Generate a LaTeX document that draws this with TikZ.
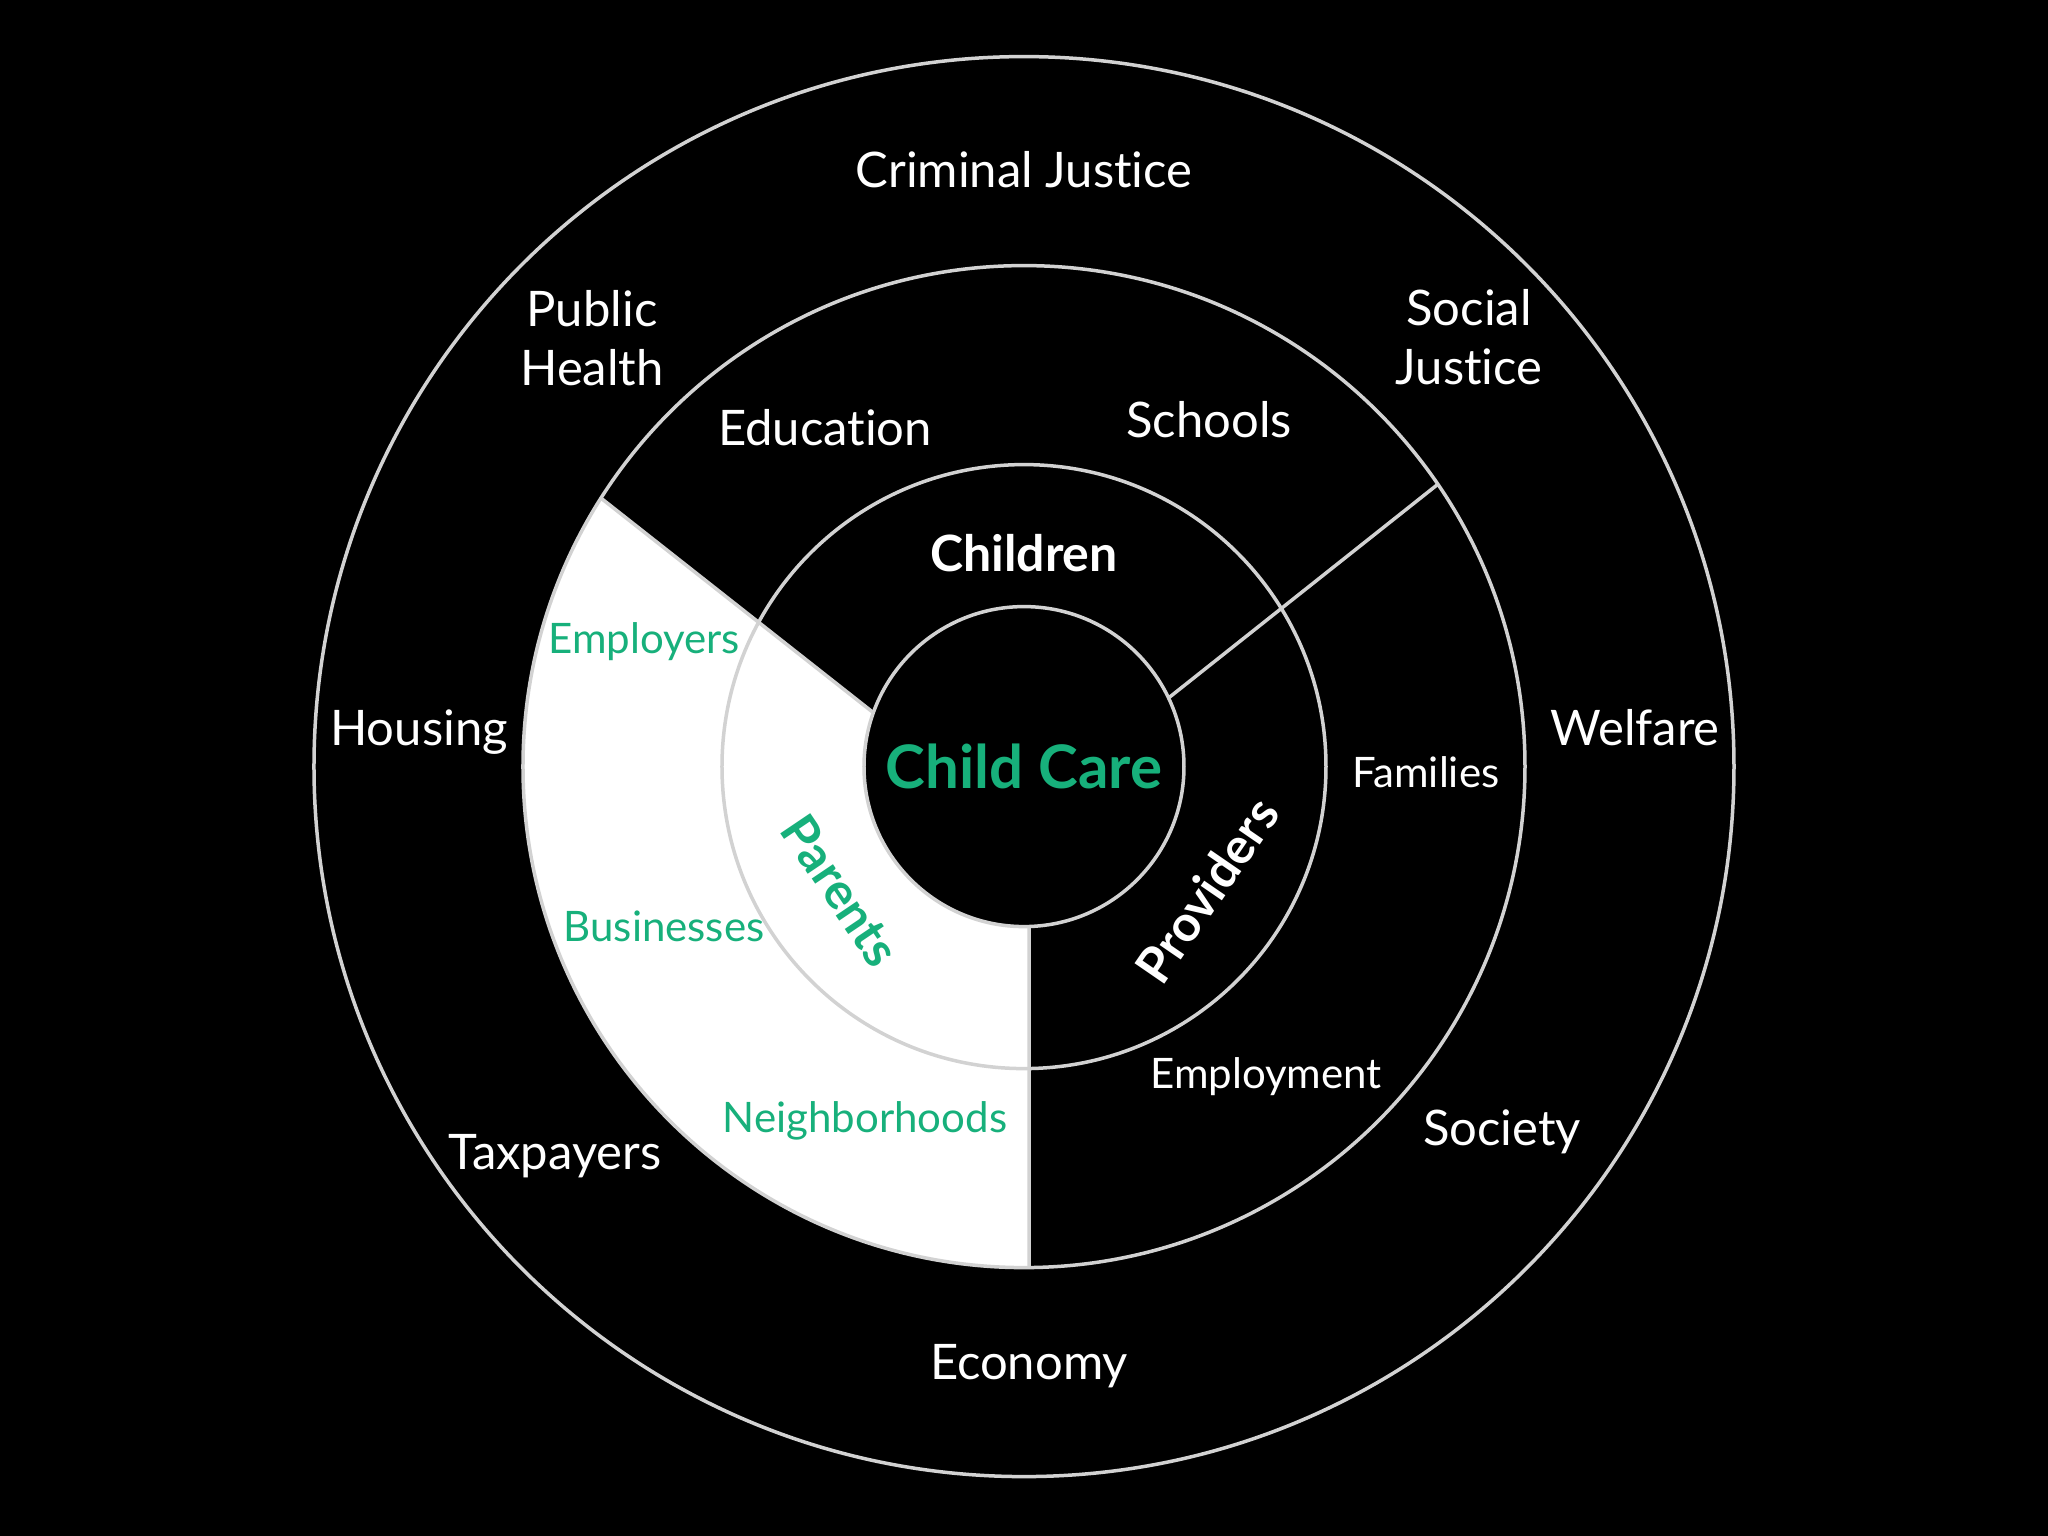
\documentclass[tikz,border=0pt]{standalone}
\usepackage{fontspec}
\setmainfont{Lato}[Ligatures=NoCommon]
\definecolor{ccgreen}{HTML}{17B07B}
\definecolor{ringgray}{HTML}{D2D2D2}
\begin{document}
\begin{tikzpicture}[x=1pt,y=1pt,
  ring/.style={draw=ringgray,line width=3.5pt},
  lbl/.style={text=white,inner sep=0pt,text height=35pt,text depth=0pt,font=\fontsize{49}{58}\selectfont},
  two/.style={text=white,inner sep=0pt,align=center,font=\fontsize{49}{59}\selectfont},
  small/.style={lbl,text height=30pt,font=\fontsize{42}{50}\selectfont},
  gsmall/.style={small,text=ccgreen},
  boldlbl/.style={lbl,text height=36pt,font=\fontsize{50}{60}\bfseries\selectfont}]
\useasboundingbox (-1024,-769.4) rectangle (1024,766.6);
\fill[black] (-1024,-769.4) rectangle (1024,766.6);
% white sector
\fill[white] (147.6:501) arc[start angle=147.6,end angle=270.6,radius=501]
  -- (271.8:160) arc[start angle=271.8,end angle=160.3,radius=160] -- cycle;
% rings
\draw[ring] (0,0) circle[radius=710];
\draw[ring] (0,0) circle[radius=501];
\draw[ring] (0,0) circle[radius=302];
\draw[ring] (0,0) circle[radius=160];
% dividers
\coordinate (a1) at (147.6:501); \coordinate (a2) at (160.3:160);
\coordinate (b1) at (34.3:501);  \coordinate (b2) at (25.4:160);
\coordinate (c1) at (270.6:501); \coordinate (c2) at (271.8:160);
\draw[ring] (a1) -- (a2);
\draw[ring] (b1) -- (b2);
\draw[ring] (c1) -- (c2);
% outer labels
\node[lbl] (cj) at (0,597) {Criminal Justice};
\node[two] (ph) at (-432,428) {Public\\Health};
\node[two] (sj) at (445,429) {Social\\Justice};
\node[lbl] (ho) at (-605,39) {Housing};
\node[lbl] (we) at (611,39) {Welfare};
\node[lbl] (ta) at (-469,-385) {Taxpayers};
\node[lbl] (so) at (478,-361) {Society};
\node[lbl] (ec) at (5,-595) {Economy};
% middle labels
\node[lbl] (ed) at (-199,339) {Education};
\node[lbl] (sc) at (185,347) {Schools};
\node[small] (fa) at (402,-6) {Families};
\node[small] (em) at (242,-307) {Employment};
\node[gsmall] (ep) at (-380,128) {Employers};
\node[gsmall] (bu) at (-360,-160) {Businesses};
\node[gsmall] (ne) at (-159,-351) {Neighborhoods};
% inner labels
\node[boldlbl] (ch) at (0,213) {Children};
\node[boldlbl,text=ccgreen,rotate=-56] (pa) at (-183,-124) {Parents};
\node[boldlbl,rotate=55.5] (pr) at (183,-124) {Providers};
\node[lbl,text=ccgreen,text height=43pt,font=\fontsize{60}{70}\bfseries\selectfont] (cc) at (0,0) {Child Care};
\end{tikzpicture}
\end{document}
